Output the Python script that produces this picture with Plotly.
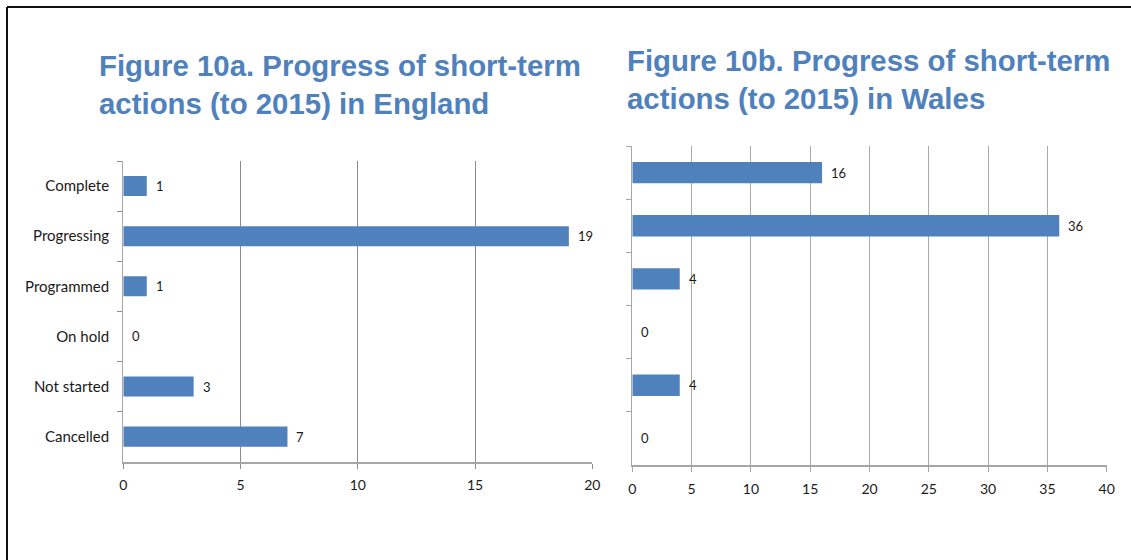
import plotly.graph_objects as go

# Progress of short-term actions (to 2015)
categories = ["Complete", "Progressing", "Programmed", "On hold", "Not started", "Cancelled"]
england_counts = [1, 19, 1, 0, 3, 7]
wales_counts = [16, 36, 4, 0, 4, 0]

title_england = "Figure 10a. Progress of short-term<br>actions (to 2015) in England"
title_wales = "Figure 10b. Progress of short-term<br>actions (to 2015) in Wales"

W, H = 1131, 560
BAR = "#4F81BD"
TITLE_BLUE = "#4F81BD"
TEXT_FAMILY = "Lato, Open Sans, sans-serif"
CAT_FONT = dict(family=TEXT_FAMILY, size=15, color="#1a1a1a")
NUM_FONT = dict(family=TEXT_FAMILY, size=14, color="#1a1a1a")
LABEL_FONT = dict(family=TEXT_FAMILY, size=13, color="#1a1a1a")


def px_x(p):
    return p / W


def px_y(p):
    return 1 - p / H


fig = go.Figure()

fig.add_trace(go.Bar(
    x=england_counts, y=categories, orientation="h",
    marker=dict(color=BAR, line=dict(width=0)),
    width=0.4, xaxis="x", yaxis="y", showlegend=False, hoverinfo="x+y",
))
fig.add_trace(go.Bar(
    x=wales_counts, y=categories, orientation="h",
    marker=dict(color=BAR, line=dict(width=0)),
    width=0.4, xaxis="x2", yaxis="y2", showlegend=False, hoverinfo="x+y",
))

annotations = []
# value labels beside each bar
for cat, v in zip(categories, england_counts):
    annotations.append(dict(x=v, y=cat, xref="x", yref="y", text=str(v),
                            showarrow=False, xanchor="left", xshift=7,
                            font=LABEL_FONT))
for cat, v in zip(categories, wales_counts):
    annotations.append(dict(x=v, y=cat, xref="x2", yref="y2", text=str(v),
                            showarrow=False, xanchor="left", xshift=7,
                            font=LABEL_FONT))

# chart titles
TITLE_FONT = dict(family="Liberation Sans, Arial, sans-serif", size=29.4,
                  color=TITLE_BLUE, weight="bold")
annotations.append(dict(x=px_x(97), y=px_y(47), xref="paper", yref="paper",
                        text=title_england, showarrow=False, xanchor="left", yanchor="top",
                        align="left", font=TITLE_FONT))
annotations.append(dict(x=px_x(625), y=px_y(42), xref="paper", yref="paper",
                        text=title_wales, showarrow=False, xanchor="left", yanchor="top",
                        align="left", font=TITLE_FONT))

xaxis_common = dict(
    showgrid=True, gridwidth=1.3, zeroline=False, automargin=False,
    showline=True, linewidth=1.8, ticks="outside", ticklen=5, tickwidth=1.3,
    dtick=5, tick0=0, tickfont=NUM_FONT, ticklabelstandoff=5,
    fixedrange=True,
)
yaxis_common = dict(
    showgrid=False, zeroline=False, showline=True, linewidth=1.3, automargin=False,
    ticks="outside", ticklen=5, tickwidth=1.3, tickson="boundaries",
    autorange="reversed", type="category", fixedrange=True,
)

fig.update_layout(
    width=W, height=H,
    margin=dict(l=0, r=0, t=0, b=0),
    paper_bgcolor="white", plot_bgcolor="white",
    xaxis=dict(domain=[px_x(123.3), px_x(592.3)], range=[0, 20], anchor="y",
               gridcolor="#8c8c8c", linecolor="#a6a6a6", tickcolor="#8c8c8c",
               **xaxis_common),
    yaxis=dict(domain=[px_y(461.7), px_y(161)], anchor="x",
               linecolor="#a6a6a6", tickcolor="#8c8c8c",
               tickfont=CAT_FONT, ticklabelstandoff=10, showticklabels=True,
               **yaxis_common),
    xaxis2=dict(domain=[px_x(632.3), px_x(1106.7)], range=[0, 40], anchor="y2",
                gridcolor="#ababab", linecolor="#a6a6a6", tickcolor="#a6a6a6",
                **xaxis_common),
    yaxis2=dict(domain=[px_y(465), px_y(146)], anchor="x2",
                linecolor="#a6a6a6", tickcolor="#a6a6a6", showticklabels=False,
                **yaxis_common),
    annotations=annotations,
    shapes=[
        # page frame: top and left rules
        dict(type="line", xref="paper", yref="paper", x0=px_x(7), x1=1,
             y0=px_y(7), y1=px_y(7), line=dict(color="#111111", width=2)),
        dict(type="line", xref="paper", yref="paper", x0=px_x(7), x1=px_x(7),
             y0=px_y(7), y1=0, line=dict(color="#111111", width=2)),
    ],
)

fig.write_html("out.html")
